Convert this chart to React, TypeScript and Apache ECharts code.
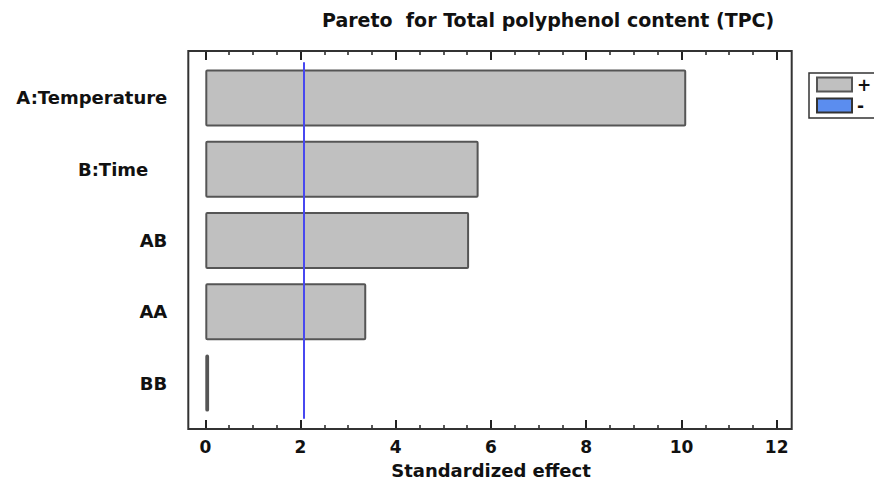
import React, { useEffect, useRef } from "react";
import * as echarts from "echarts";

const categories = ["A:Temperature", "B:Time", "AB", "AA", "BB"];
const positiveEffects = [10.1, 5.74, 5.54, 3.38, 0.08];
const negativeEffects: number[] = [];
const criticalValue = 2.06;
const xTicksMin = 0;
const xTicksMax = 12;
const xTickInterval = 2;
const titleText = "Pareto  for Total polyphenol content (TPC)";
const xAxisName = "Standardized effect";

const FONT = "DejaVu Sans";

export default function App() {
  const ref = useRef<HTMLDivElement>(null);
  useEffect(() => {
    if (!ref.current) return;
    const chart = echarts.init(ref.current, undefined, { renderer: "svg" });
    const tickCommon = {
      min: xTicksMin,
      max: xTicksMax,
      interval: xTickInterval,
      axisLine: { show: false },
      splitLine: { show: false },
      axisTick: { show: true, inside: true, length: 9, lineStyle: { color: "#222", width: 2 } },
      minorTick: { show: true, splitNumber: 4, length: 4, lineStyle: { color: "#222", width: 1.5 } },
    };
    chart.setOption({
      animation: false,
      backgroundColor: "#ffffff",
      title: {
        text: titleText,
        left: 317,
        top: 5,
        textStyle: { fontFamily: FONT, fontWeight: "bold", fontSize: 19, color: "#111" },
      },
      legend: {
        orient: "vertical",
        left: 809,
        top: 73,
        icon: "rect",
        itemWidth: 35,
        itemHeight: 14,
        itemGap: 4,
        padding: [3, 14, 4, 7],
        borderColor: "#333",
        borderWidth: 1.5,
        data: ["+", "-"],
        textStyle: { fontFamily: FONT, fontWeight: "bold", fontSize: 17, color: "#111" },
      },
      grid: { left: 205.3, right: 97.3, top: 62.3, bottom: 73.3 },
      xAxis: [
        {
          type: "value",
          position: "bottom",
          offset: 10.3,
          ...tickCommon,
          name: xAxisName,
          nameLocation: "middle",
          nameGap: 32,
          nameTextStyle: { fontFamily: FONT, fontWeight: "bold", fontSize: 18, color: "#111" },
          axisLabel: { show: true, margin: 9, fontFamily: FONT, fontWeight: "bold", fontSize: 17, color: "#111" },
        },
        {
          type: "value",
          position: "top",
          offset: 11.3,
          ...tickCommon,
          axisLabel: { show: false },
        },
      ],
      yAxis: {
        type: "category",
        inverse: true,
        data: categories,
        axisLine: { show: false },
        axisTick: { show: false },
        splitLine: { show: false },
        axisLabel: {
          margin: 38,
          fontFamily: FONT,
          fontWeight: "bold",
          fontSize: 18,
          color: "#111",
          formatter: (v: string) => (v === "B:Time" ? "{p|" + v + "}" : v),
          rich: { p: { padding: [0, 19, 0, 0], fontFamily: FONT, fontWeight: "bold", fontSize: 18, color: "#111" } },
        },
      },
      series: [
        {
          name: "+",
          type: "bar",
          stack: "effect",
          data: positiveEffects,
          barCategoryGap: "20%",
          itemStyle: { color: "#c0c0c0", borderColor: "#555", borderWidth: 2, borderRadius: 1 },
          markLine: {
            silent: true,
            symbol: "none",
            label: { show: false },
            lineStyle: { color: "#4848f0", width: 2, type: "solid" },
            data: [{ xAxis: criticalValue }],
          },
        },
        {
          name: "-",
          type: "bar",
          stack: "effect",
          data: negativeEffects,
          itemStyle: { color: "#5b8def", borderColor: "#333", borderWidth: 1.5 },
        },
      ],
      graphic: [
        {
          type: "rect",
          shape: { x: 188.3, y: 51, width: 603.4, height: 378 },
          style: { fill: "none", stroke: "#333", lineWidth: 2 },
          z: 100,
        },
      ],
    });
    return () => chart.dispose();
  }, []);
  return (
    <div
      ref={ref}
      style={{ position: "fixed", left: 0, top: 0, width: 874, height: 492 }}
    />
  );
}
